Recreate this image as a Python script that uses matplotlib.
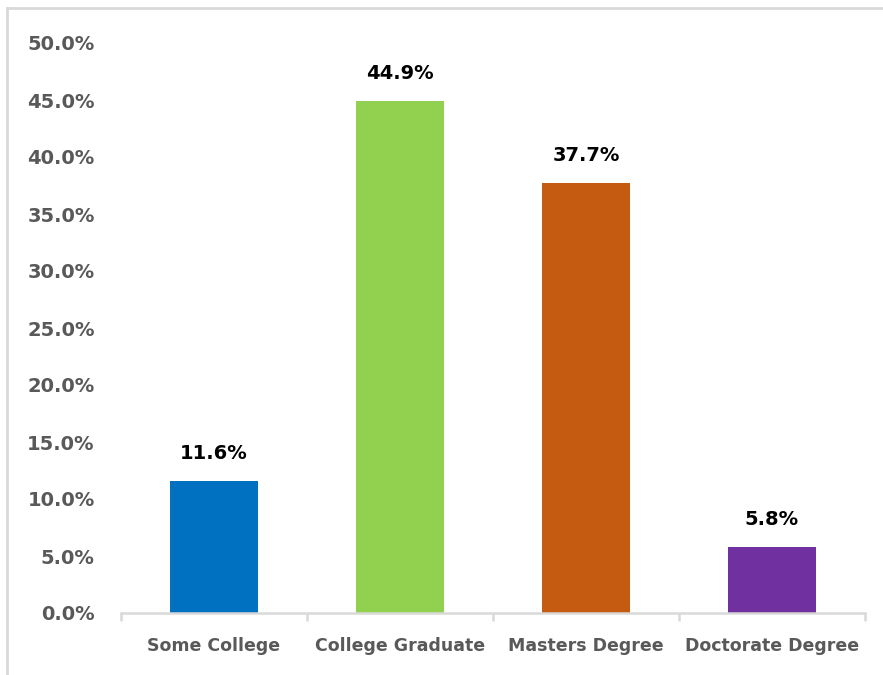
import matplotlib
matplotlib.use("Agg")
import matplotlib.pyplot as plt
from matplotlib.lines import Line2D
from matplotlib.ticker import FuncFormatter, MultipleLocator, FixedLocator

categories = ["Some College", "College Graduate", "Masters Degree", "Doctorate Degree"]
values = [11.6, 44.9, 37.7, 5.8]
colors = ["#0070C0", "#92D050", "#C55A11", "#7030A0"]

plt.rcParams['font.family'] = ['DejaVu Sans']

fig = plt.figure(figsize=(8.83, 6.75), dpi=100)
ax = fig.add_axes([121/883, 1-613/675, (865-121)/883, (613-43)/675])

x = list(range(len(categories)))
bars = ax.bar(x, values, width=0.47, color=colors, zorder=2)

ax.set_xlim(-0.5, len(categories) - 0.5)
ax.set_ylim(0, 50)
ax.yaxis.set_major_locator(MultipleLocator(5))
ax.yaxis.set_major_formatter(FuncFormatter(lambda v, p: f"{v:.1f}%"))

for s in ["top", "right", "left"]:
    ax.spines[s].set_visible(False)
ax.spines["bottom"].set_color("#d9d9d9")
ax.spines["bottom"].set_linewidth(1.8)

ax.tick_params(axis="y", length=0, pad=19, labelsize=14, labelcolor="#595959")
for lab in ax.get_yticklabels():
    lab.set_fontweight("bold")

ax.set_xticks(x)
ax.set_xticklabels(categories, fontsize=12.5, color="#595959", fontweight="bold")
ax.tick_params(axis="x", length=0, pad=17)
ax.xaxis.set_minor_locator(FixedLocator([i - 0.5 for i in range(len(categories) + 1)]))
ax.tick_params(axis="x", which="minor", length=6, width=1.8, color="#d9d9d9", direction="out")

for b, v in zip(bars, values):
    ax.annotate(f"{v:.1f}%", (b.get_x() + b.get_width() / 2, v),
                xytext=(0, 13), textcoords="offset points",
                ha="center", va="bottom", fontsize=14, fontweight="bold", color="#000000")

xl = 7/883
yt = 1 - 8/675
fig.add_artist(Line2D([xl, xl], [0, yt], transform=fig.transFigure, color="#d9d9d9", linewidth=2))
fig.add_artist(Line2D([xl, 1], [yt, yt], transform=fig.transFigure, color="#d9d9d9", linewidth=2))

fig.savefig("out.png", dpi=100)
